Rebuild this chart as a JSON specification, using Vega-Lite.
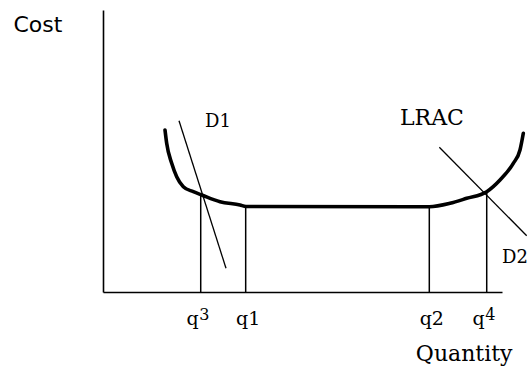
{
  "$schema": "https://vega.github.io/schema/vega-lite/v6.json",
  "width": 399,
  "height": 282,
  "autosize": {"type": "none"},
  "padding": {"left": 103, "top": 10, "right": 29, "bottom": 76},
  "background": "white",
  "config": {"view": {"stroke": null}},
  "datasets": {
    "lrac": [
      {"q": 15.54, "c": 57.45},
      {"q": 15.96, "c": 52.73},
      {"q": 17.22, "c": 45.64},
      {"q": 18.47, "c": 40.89},
      {"q": 20.13, "c": 37.34},
      {"q": 22.63, "c": 35.57},
      {"q": 24.74, "c": 34.4},
      {"q": 29.32, "c": 32.02},
      {"q": 34.34, "c": 30.85},
      {"q": 35.84, "c": 30.32},
      {"q": 81.78, "c": 30.25},
      {"q": 86.97, "c": 31.45},
      {"q": 91.15, "c": 33.23},
      {"q": 96.17, "c": 35.57},
      {"q": 99.5, "c": 39.72},
      {"q": 102.83, "c": 45.64},
      {"q": 104.51, "c": 50.35},
      {"q": 105.34, "c": 56.28}
    ],
    "demand": [
      {"curve": "D1", "q": 19.05, "c": 60.74},
      {"curve": "D1", "q": 30.83, "c": 8.4},
      {"curve": "D2", "q": 84.29, "c": 51.31},
      {"curve": "D2", "q": 106.19, "c": 19.96}
    ],
    "quantities": [
      {"name": "q", "index": "3", "q": 24.49, "c": 34.3},
      {"name": "q1", "index": "", "q": 35.76, "c": 30.4},
      {"name": "q2", "index": "", "q": 81.78, "c": 30.3},
      {"name": "q", "index": "4", "q": 96.17, "c": 35.6}
    ],
    "notes": [
      {"text": "D1", "q": 25.56, "c": 58.5},
      {"text": "LRAC", "q": 74.44, "c": 59.2},
      {"text": "D2", "q": 100, "c": 10.3}
    ]
  },
  "encoding": {
    "x": {
      "field": "q",
      "type": "quantitative",
      "scale": {"domain": [0, 100], "nice": false, "zero": false},
      "axis": {
        "domain": true,
        "domainColor": "black",
        "domainWidth": 1.6,
        "ticks": false,
        "labels": false,
        "grid": false,
        "title": "Quantity",
        "titleFont": "DejaVu Serif",
        "titleFontSize": 22,
        "titleFontWeight": "normal",
        "titleColor": "black",
        "titleAlign": "right",
        "titleBaseline": "alphabetic",
        "titleX": 409,
        "titleY": 68
      }
    },
    "y": {
      "field": "c",
      "type": "quantitative",
      "scale": {"domain": [0, 100], "nice": false, "zero": false},
      "axis": {
        "domain": true,
        "domainColor": "black",
        "domainWidth": 1.6,
        "ticks": false,
        "labels": false,
        "grid": false,
        "title": "Cost",
        "titleFont": "DejaVu Sans",
        "titleFontSize": 22,
        "titleFontWeight": "normal",
        "titleColor": "black",
        "titleAngle": 0,
        "titleAlign": "left",
        "titleBaseline": "alphabetic",
        "titleX": -90,
        "titleY": 21
      }
    }
  },
  "layer": [
    {
      "data": {"name": "quantities"},
      "mark": {"type": "rule", "color": "black", "strokeWidth": 1.5},
      "encoding": {"y2": {"datum": 0}}
    },
    {
      "data": {"name": "demand"},
      "mark": {"type": "line", "color": "black", "strokeWidth": 1.3},
      "encoding": {"detail": {"field": "curve"}}
    },
    {
      "data": {"name": "lrac"},
      "mark": {"type": "line", "color": "black", "strokeWidth": 3.6, "interpolate": "monotone", "strokeCap": "round"},
      "encoding": {"order": {"field": "q", "type": "quantitative"}}
    },
    {
      "data": {"name": "quantities"},
      "transform": [{"filter": "datum.index === ''"}],
      "mark": {"type": "text", "font": "DejaVu Serif", "fontSize": 19, "color": "black", "align": "center", "baseline": "alphabetic", "dx": 2.5, "dy": 33},
      "encoding": {"y": {"datum": 0}, "text": {"field": "name"}}
    },
    {
      "data": {"name": "quantities"},
      "transform": [{"filter": "datum.index !== ''"}],
      "mark": {"type": "text", "font": "DejaVu Serif", "fontSize": 19, "color": "black", "align": "right", "baseline": "alphabetic", "dx": -2, "dy": 33},
      "encoding": {"y": {"datum": 0}, "text": {"field": "name"}}
    },
    {
      "data": {"name": "quantities"},
      "transform": [{"filter": "datum.index !== ''"}],
      "mark": {"type": "text", "font": "DejaVu Serif", "fontSize": 16, "color": "black", "align": "left", "baseline": "alphabetic", "dx": -1.5, "dy": 28},
      "encoding": {"y": {"datum": 0}, "text": {"field": "index"}}
    },
    {
      "data": {"name": "notes"},
      "transform": [{"filter": "datum.text !== 'LRAC'"}],
      "mark": {"type": "text", "font": "DejaVu Serif", "fontSize": 18, "color": "black", "align": "left", "baseline": "alphabetic"},
      "encoding": {"text": {"field": "text"}}
    },
    {
      "data": {"name": "notes"},
      "transform": [{"filter": "datum.text === 'LRAC'"}],
      "mark": {"type": "text", "font": "DejaVu Serif", "fontSize": 22, "color": "black", "align": "left", "baseline": "alphabetic"},
      "encoding": {"text": {"field": "text"}}
    }
  ]
}
